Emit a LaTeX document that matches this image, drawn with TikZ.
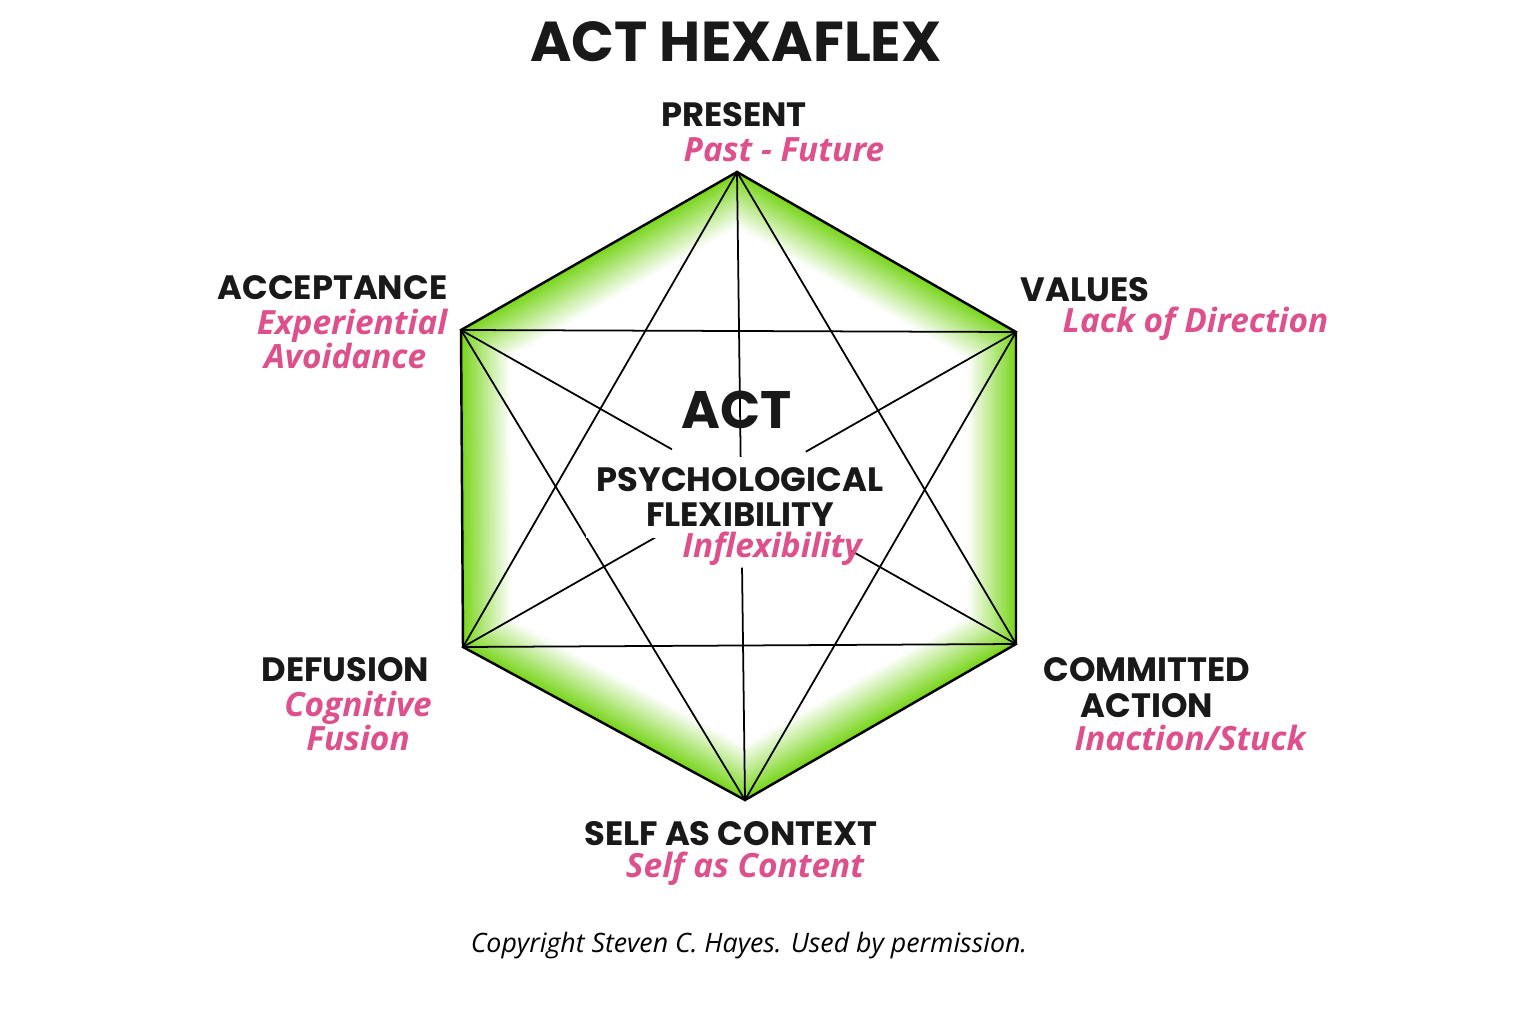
\documentclass[tikz,border=0pt]{standalone}
\usepackage{fontspec}
\setmainfont{Poppins}
\newfontfamily\pinkfont{Open Sans}
\usetikzlibrary{calc}
\definecolor{hexgreen}{RGB}{122,214,30}
\definecolor{pink}{RGB}{222,80,140}
\tikzset{
 lbl/.style={font=\fontsize{9.6}{10.2}\selectfont\bfseries, text=black!90, inner sep=0pt},
 sub/.style={font=\pinkfont\fontsize{9.5}{9.8}\selectfont\bfseries\itshape, text=pink, inner sep=0pt},
 edge/.style={line width=0.5pt, black}
}
\begin{document}
\begin{tikzpicture}[x=0.01cm,y=-0.01cm]
\useasboundingbox (0,0) rectangle (1536,1024);
\coordinate (T) at (737,172);
\coordinate (UR) at (1016,332);
\coordinate (LR) at (1016,644);
\coordinate (B) at (745,800);
\coordinate (LL) at (463,647);
\coordinate (UL) at (461,330);
\coordinate (C) at (740,488);
% green glow
\foreach \i in {0,...,22}{
  \pgfmathsetmacro\s{1-\i*0.008}
  \pgfmathsetmacro\p{int(max(0,100-\i*4.6))}
  \fill[hexgreen!\p!white] ($(C)!\s!(T)$) -- ($(C)!\s!(UR)$) -- ($(C)!\s!(LR)$) -- ($(C)!\s!(B)$) -- ($(C)!\s!(LL)$) -- ($(C)!\s!(UL)$) -- cycle;
}
\draw[edge, line width=0.7pt] (T) -- (UR) -- (LR) -- (B) -- (LL) -- (UL) -- cycle;
\draw[edge] (T) -- (LL) -- (LR) -- cycle;
\draw[edge] (UL) -- (UR) -- (B) -- cycle;
% spokes
\draw[edge] (T) -- ($(T)!0.58!(B)$);
\draw[edge] (B) -- ($(B)!0.37!(T)$);
\draw[edge] (UL) -- ($(UL)!0.38!(LR)$);
\draw[edge] (LR) -- ($(LR)!0.30!(UL)$);
\draw[edge] (UR) -- ($(UR)!0.38!(LL)$);
\draw[edge] (LL) -- ($(LL)!0.36!(UR)$);
% texts
\node[lbl, font=\fontsize{16}{18}\selectfont\bfseries] (title) at (736,42) {ACT HEXAFLEX};
\node[lbl] (pres) at (734,115) {PRESENT};
\node[sub] (pres2) at (784,150) {Past - Future};
\node[lbl, anchor=east] (acc) at (448,288) {ACCEPTANCE};
\node[sub, anchor=north east, align=right] (acc2) at (448,308) {Experiential\\Avoidance\kern6pt};
\node[lbl, anchor=west] (val) at (1020,290) {VALUES};
\node[sub, anchor=west] (val2) at (1062,324) {Lack of Direction};
\node[lbl, anchor=east] (def) at (430,670) {DEFUSION};
\node[sub, align=center] (def2) at (358,721) {Cognitive\\Fusion};
\node[lbl, align=center] (com) at (1147,688) {COMMITTED\\ACTION};
\node[sub] (com2) at (1190,738) {Inaction/Stuck};
\node[lbl] (self) at (731,834) {SELF AS CONTEXT};
\node[sub] (self2) at (745,869) {Self as Content};
\node[lbl, font=\fontsize{15}{16}\selectfont\bfseries] (act) at (737,410) {ACT};
\node[lbl, align=center, fill=white, inner sep=3pt] (psy) at (740,497) {PSYCHOLOGICAL\\FLEXIBILITY};
\node[sub] (inf) at (772,549) {Inflexibility};
\node[font=\pinkfont\fontsize{7.6}{9}\selectfont\itshape, inner sep=0pt] (copy) at (749,946) {Copyright Steven C. Hayes. Used by permission.};
\end{tikzpicture}
\end{document}
